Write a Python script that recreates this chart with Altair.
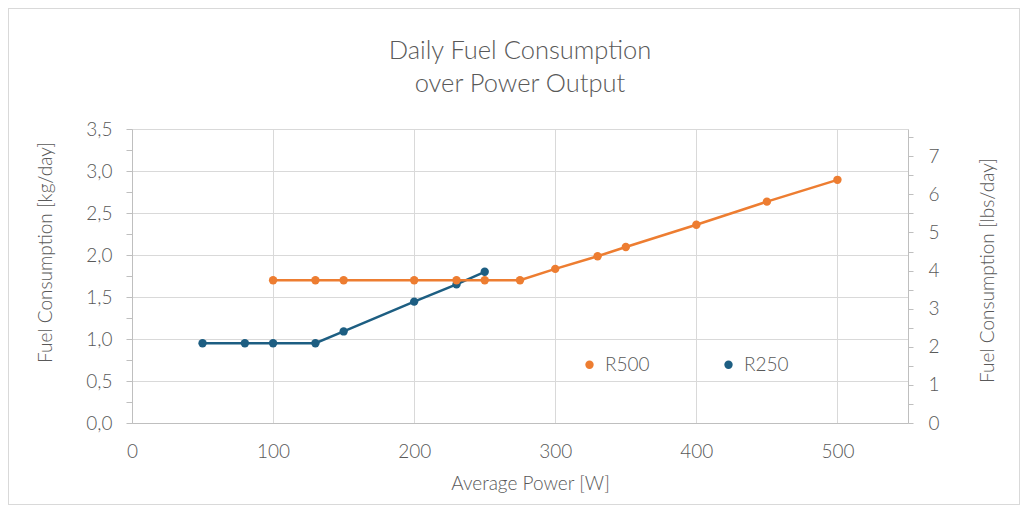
import altair as alt
import pandas as pd

# ---- data ----
series_names = ["R250", "R500"]
legend_order = ["R500", "R250"]
series_colors = ["#ed7d31", "#1d5e82"]

r250_power = [50, 80, 100, 130, 150, 200, 230, 250]
r250_kg = [0.95, 0.95, 0.95, 0.95, 1.09, 1.445, 1.65, 1.80]

r500_power = [100, 130, 150, 200, 230, 250, 275, 300, 330, 350, 400, 450, 500]
r500_kg = [1.70, 1.70, 1.70, 1.70, 1.70, 1.70, 1.70, 1.835, 1.985, 2.095, 2.36, 2.635, 2.895]

x_ticks = [0, 100, 200, 300, 400, 500]
kg_ticks = [0, 0.25, 0.5, 0.75, 1.0, 1.25, 1.5, 1.75, 2.0, 2.25, 2.5, 2.75, 3.0, 3.25, 3.5]
lbs_ticks = [0, 0.5, 1, 1.5, 2, 2.5, 3, 3.5, 4, 4.5, 5, 5.5, 6, 6.5, 7, 7.5]
KG_TO_LBS = 2.20462

df = pd.DataFrame({
    "series": ["R250"] * len(r250_power) + ["R500"] * len(r500_power),
    "power": r250_power + r500_power,
    "kg": r250_kg + r500_kg,
})

FONT = "Lato, Open Sans, sans-serif"
TXT = "#595959"
LIGHT = 300

W, H = 776, 294

xenc = alt.X("power:Q", scale=alt.Scale(domain=[0, 550], nice=False),
             axis=alt.Axis(values=x_ticks, grid=True, ticks=False, labelPadding=19, labelFlush=False,
                           title="Average Power [W]", titleX=398, titleY=60,
                           titleBaseline="middle", titleAlign="center"))

yenc = alt.Y("kg:Q", scale=alt.Scale(domain=[0, 3.5], nice=False),
             axis=alt.Axis(values=kg_ticks, tickSize=6, labelPadding=14,
                           labelExpr="datum.value % 0.5 == 0 ? replace(format(datum.value, '.1f'), '.', ',') : ''",
                           gridOpacity={"condition": {"test": "datum.value % 0.5 == 0", "value": 1}, "value": 0},
                           title="Fuel Consumption [kg/day]", titleX=-87, titleY=123,
                           titleBaseline="middle", titleAlign="center", titleAngle=270))

cenc = alt.Color("series:N", scale=alt.Scale(domain=legend_order, range=series_colors),
                 legend=alt.Legend(title=None, orient="none", legendX=448, legendY=226,
                                   direction="horizontal", symbolType="circle", symbolSize=70,
                                   symbolStrokeWidth=0, columnPadding=69, labelFontSize=19,
                                   labelFont=FONT, labelFontWeight=LIGHT, labelColor=TXT,
                                   labelOffset=6))

layers = []
for s in series_names:
    b = alt.Chart(df).transform_filter(alt.datum.series == s)
    layers.append(b.mark_line(strokeWidth=2.5).encode(x=xenc, y=yenc, color=cenc))
    layers.append(b.mark_point(filled=True, size=70, opacity=1).encode(x=xenc, y=yenc, color=cenc))

frame = alt.Chart(df).mark_rect(fill=None, stroke="#d9d9d9", strokeWidth=1).encode(
    x=alt.value(-123.5), x2=alt.value(887.5), y=alt.value(-120.5), y2=alt.value(375.5))

left = alt.layer(frame, *layers)

right = alt.Chart(df).transform_calculate(lbs=f"datum.kg * {KG_TO_LBS}").mark_line(opacity=0).encode(
    x=xenc,
    y=alt.Y("lbs:Q", scale=alt.Scale(domain=[0, 3.5 * KG_TO_LBS], nice=False),
            axis=alt.Axis(orient="right", values=lbs_ticks, grid=False, tickSize=5, labelPadding=15,
                          labelExpr="datum.value % 1 == 0 ? format(datum.value, 'd') : ''",
                          title="Fuel Consumption [lbs/day]", titleX=79, titleY=141,
                          titleBaseline="middle", titleAlign="center", titleAngle=270)),
)

chart = alt.layer(left, right).resolve_scale(y="independent").properties(
    width=W, height=H,
    title=alt.TitleParams(["Daily Fuel Consumption", "over Power Output"], fontSize=25.5, font=FONT,
                          fontWeight=LIGHT, color=TXT, anchor="middle", lineHeight=33, offset=-89),
    autosize=alt.AutoSizeParams(type="none"),
    padding={"left": 124, "top": 121, "right": 112, "bottom": 82},
).configure_view(strokeWidth=0).configure_axis(
    labelFont=FONT, labelFontSize=19, labelColor=TXT, labelFontWeight=LIGHT,
    titleFont=FONT, titleFontSize=19, titleColor=TXT, titleFontWeight=LIGHT,
    domainColor="#bfbfbf", tickColor="#bfbfbf", gridColor="#d9d9d9",
)

chart.save("out.html", embed_options={"renderer": "svg", "actions": False})
